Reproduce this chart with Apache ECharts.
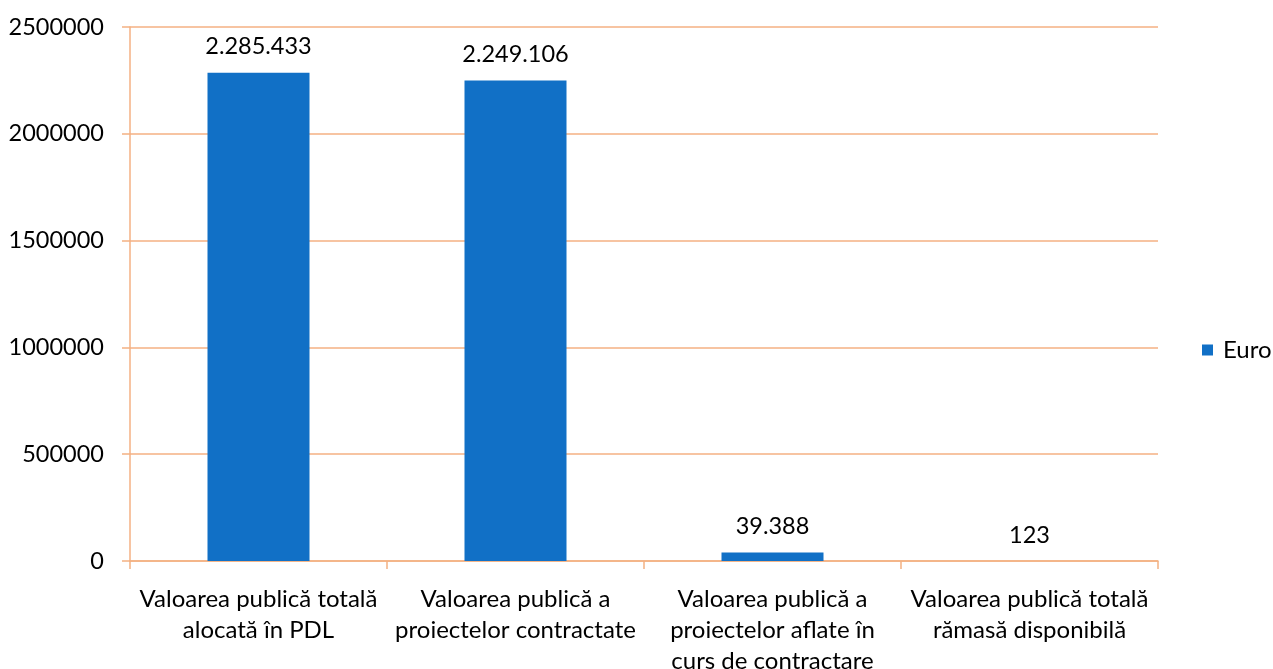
<!DOCTYPE html>
<html lang="ro">
<head>
  <meta charset="UTF-8">
  <title>Valoarea publică</title>
  <script src="https://cdn.jsdelivr.net/npm/echarts@6/dist/echarts.min.js"></script>
  <style>
    html, body { margin: 0; padding: 0; background: #fff; }
  </style>
</head>
<body>
  <div id="chart" style="width: 1273px; height: 669px;"></div>

  <script>
    // categorii (cu rupturi de rand ca in original)
    const categories = [
      'Valoarea publică totală\nalocată în PDL',
      'Valoarea publică a\nproiectelor contractate',
      'Valoarea publică a\nproiectelor aflate în\ncurs de contractare',
      'Valoarea publică totală\nrămasă disponibilă'
    ]
    const euroValues = [2285433, 2249106, 39388, 123]
    const yTicks = [0, 500000, 1000000, 1500000, 2000000, 2500000]

    const orange = '#F4B183'
    const fontFamily = 'Lato, "Noto Sans", sans-serif'

    // 2285433 -> 2.285.433
    function dotThousands(v) {
      return String(v).replace(/\B(?=(\d{3})+(?!\d))/g, '.')
    }

    const chart = echarts.init(document.getElementById('chart'), null, {renderer: 'canvas'})
    chart.setOption({
      animation: false,
      textStyle: { fontFamily: fontFamily, color: '#000' },
      grid: {
        left: 130,
        right: 115,
        top: 27,
        bottom: 108,
        outerBoundsMode: 'none',
        containLabel: false
      },
      legend: {
        data: ['Euro'],
        orient: 'vertical',
        left: 1197,
        top: 333,
        icon: 'rect',
        itemWidth: 11,
        itemHeight: 11,
        itemGap: 5,
        textStyle: { fontSize: 24, color: '#000', fontFamily: fontFamily, padding: [0, 0, 0, 5] }
      },
      xAxis: {
        type: 'category',
        data: categories,
        axisLine: { lineStyle: { color: orange, width: 1.5 } },
        axisTick: { show: true, alignWithLabel: false, length: 8, lineStyle: { color: orange, width: 1.5 } },
        axisLabel: {
          interval: 0,
          margin: 23,
          fontSize: 24,
          lineHeight: 31,
          color: '#000',
          fontFamily: fontFamily
        }
      },
      yAxis: {
        type: 'value',
        min: yTicks[0],
        max: yTicks[yTicks.length - 1],
        interval: yTicks[1] - yTicks[0],
        axisLine: { show: true, lineStyle: { color: orange, width: 1.5 } },
        axisTick: { show: true, length: 8, lineStyle: { color: orange, width: 1.5 } },
        splitLine: { show: true, lineStyle: { color: orange, width: 1.5 } },
        axisLabel: {
          margin: 26,
          fontSize: 23.5,
          color: '#000',
          fontFamily: fontFamily,
          formatter: function (v) { return String(v) }
        }
      },
      series: [{
        name: 'Euro',
        type: 'bar',
        data: euroValues,
        barWidth: 102,
        itemStyle: { color: '#1170C6' },
        label: {
          show: true,
          position: 'top',
          distance: 14,
          fontSize: 23.5,
          color: '#000',
          fontFamily: fontFamily,
          formatter: function (p) { return dotThousands(p.value) }
        }
      }]
    })
  </script>
</body>
</html>
